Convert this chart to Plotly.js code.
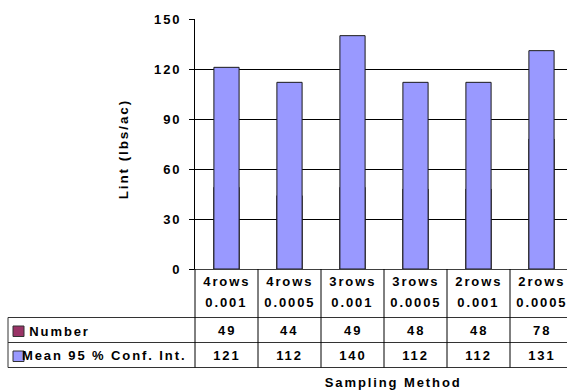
<!DOCTYPE html>
<html>
<head>
<meta charset="utf-8">
<script src="https://cdn.plot.ly/plotly-3.0.1.min.js"></script>
<style>
  html, body { margin: 0; padding: 0; overflow: hidden; background: #fff; }
  #chart text { letter-spacing: 1.9px; }
</style>
</head>
<body>
<div id="chart"></div>
<script>
// Sampling methods (two header lines per column)
const rowCounts = ['4rows', '4rows', '3rows', '3rows', '2rows', '2rows'];
const thresholds = ['0.001', '0.0005', '0.001', '0.0005', '0.001', '0.0005'];

// Series values
const numberValues = [49, 44, 49, 48, 48, 78];
const meanValues = [121, 112, 140, 112, 112, 131];

const seriesNames = ['Number', 'Mean 95 % Conf. Int.'];
const seriesColors = ['#993366', '#9999FF'];

const yTicks = [0, 30, 60, 90, 120, 150];

const categories = rowCounts.map((r, i) => r + ' ' + thresholds[i]);

// Canvas geometry
const W = 576, H = 390;
const M = { l: 195, r: 3, t: 19, b: 121 };
const plotW = W - M.l - M.r, plotH = H - M.t - M.b;
const px = x => (x - M.l) / plotW;           // pixel x -> paper x
const py = y => (H - M.b - y) / plotH;        // pixel y -> paper y

const FONT = 'Liberation Sans, Arial, sans-serif';
const txt = (size) => ({ family: FONT, size: size, color: '#000', weight: 700 });

const traces = [
  {
    type: 'bar', name: seriesNames[0], x: categories, y: numberValues,
    width: 0.4, marker: { color: seriesColors[0], line: { color: '#000', width: 1 } },
    hoverinfo: 'skip', showlegend: false
  },
  {
    type: 'bar', name: seriesNames[1], x: categories, y: meanValues,
    width: 0.4, marker: { color: seriesColors[1], line: { color: '#1a1a1a', width: 1 } },
    hoverinfo: 'skip', showlegend: false
  }
];

// Data table below the plot
const rowLines = [317.5, 342.5, 367.5];
const shapes = [];
rowLines.forEach(y => shapes.push({
  type: 'line', xref: 'paper', yref: 'paper',
  x0: px(8), x1: 1.05, y0: py(y), y1: py(y),
  line: { color: '#333', width: 1 }
}));
// column dividers at category boundaries
for (let i = 0; i < categories.length - 1; i++) {
  shapes.push({
    type: 'line', xref: 'x', yref: 'paper',
    x0: i + 0.5, x1: i + 0.5, y0: 0, y1: py(367.5),
    line: { color: '#000', width: 1 }
  });
}
// axis line continued down through the table, and left table border
shapes.push({ type: 'line', xref: 'paper', yref: 'paper', x0: 0, x1: 0, y0: 0, y1: py(367.5), line: { color: '#000', width: 1 } });
shapes.push({ type: 'line', xref: 'paper', yref: 'paper', x0: px(8), x1: px(8), y0: py(317.5), y1: py(367.5), line: { color: '#333', width: 1 } });
// legend keys
const keyRows = [331, 356];
keyRows.forEach((y, k) => shapes.push({
  type: 'rect', xref: 'paper', yref: 'paper',
  x0: px(13), x1: px(24), y0: py(y - 5), y1: py(y + 5.5),
  fillcolor: seriesColors[k], line: { color: '#333', width: 1 }
}));

const annotations = [];
categories.forEach((c, i) => {
  annotations.push({ xref: 'x', yref: 'paper', x: i, y: py(281), text: rowCounts[i], showarrow: false, font: txt(13), xanchor: 'center', yanchor: 'middle' });
  annotations.push({ xref: 'x', yref: 'paper', x: i, y: py(302), text: thresholds[i], showarrow: false, font: txt(13), xanchor: 'center', yanchor: 'middle' });
  annotations.push({ xref: 'x', yref: 'paper', x: i, y: py(330.5), text: String(numberValues[i]), showarrow: false, font: txt(13), xanchor: 'center', yanchor: 'middle' });
  annotations.push({ xref: 'x', yref: 'paper', x: i, y: py(355.5), text: String(meanValues[i]), showarrow: false, font: txt(13), xanchor: 'center', yanchor: 'middle' });
});
// series names; left-anchored text is nudged by its length to offset the extra tracking
seriesNames.forEach((n, k) => annotations.push({
  xref: 'paper', yref: 'paper', x: px(30 + 0.45 * n.length), y: py(keyRows[k]), text: n,
  showarrow: false, font: txt(13), xanchor: 'left', yanchor: 'middle'
}));
annotations.push({
  xref: 'paper', yref: 'paper', x: px(123), y: py(149), text: 'Lint (lbs/ac)',
  textangle: -90, showarrow: false, font: txt(13.5), xanchor: 'center', yanchor: 'middle'
});
annotations.push({
  xref: 'paper', yref: 'paper', x: px(393), y: py(382), text: 'Sampling Method',
  showarrow: false, font: txt(13), xanchor: 'center', yanchor: 'middle'
});

const layout = {
  width: W, height: H,
  margin: M,
  paper_bgcolor: '#fff', plot_bgcolor: '#fff',
  barmode: 'overlay',
  showlegend: false,
  xaxis: {
    type: 'category', range: [-0.5, categories.length - 0.5],
    showticklabels: false, ticks: '', showgrid: false, zeroline: false,
    showline: true, linecolor: '#404040', linewidth: 1
  },
  yaxis: {
    range: [0, 150], tickvals: yTicks, ticktext: yTicks.map(String),
    ticks: 'outside', ticklen: 5, tickcolor: '#000', tickwidth: 1,
    showline: true, linecolor: '#000', linewidth: 1,
    showgrid: true, gridcolor: '#000', gridwidth: 1, zeroline: false,
    tickfont: txt(13), ticklabelstandoff: 5
  },
  shapes: shapes,
  annotations: annotations
};

Plotly.newPlot('chart', traces, layout, { staticPlot: true, displayModeBar: false });
</script>
</body>
</html>
